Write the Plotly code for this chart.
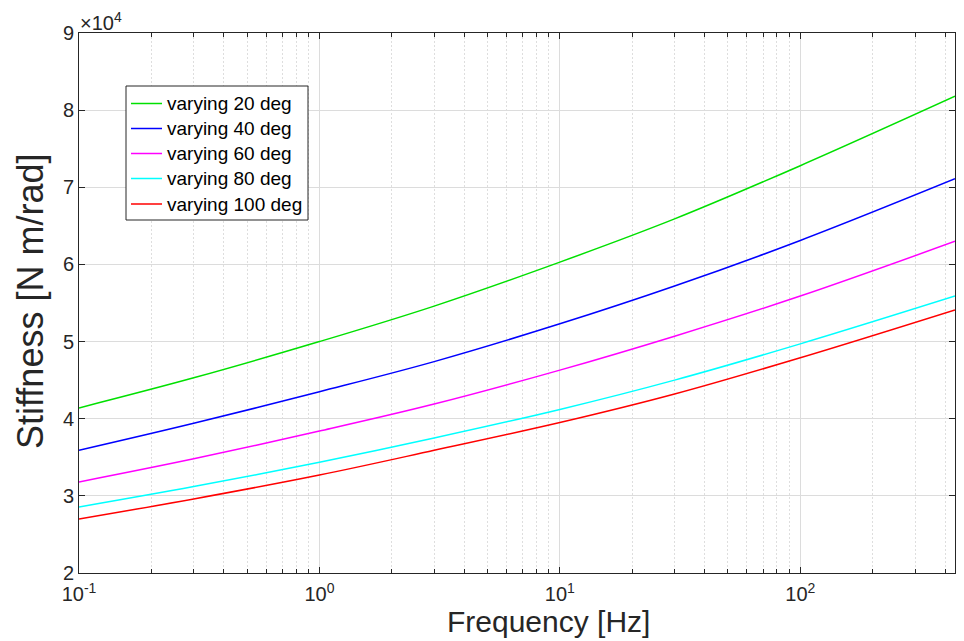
import plotly.graph_objects as go

# Data
freq_hz = [0.1, 0.3, 1, 3, 10, 30, 100, 440]
stiff_20 = [41400, 45300, 50000, 54600, 60300, 65900, 72800, 81800]
stiff_40 = [35900, 39400, 43500, 47400, 52300, 57200, 63100, 71100]
stiff_60 = [31800, 34800, 38400, 41900, 46300, 50700, 55900, 63000]
stiff_80 = [28550, 31200, 34350, 37500, 41200, 45000, 49700, 55900]
stiff_100 = [27000, 29600, 32700, 35900, 39500, 43200, 47900, 54100]

series_names = ["varying 20 deg", "varying 40 deg", "varying 60 deg",
                "varying 80 deg", "varying 100 deg"]
series_values = [stiff_20, stiff_40, stiff_60, stiff_80, stiff_100]
series_colors = ["#00e000", "#0000ff", "#ff00ff", "#00ffff", "#ff0000"]

x_major = [0.1, 1, 10, 100]
x_major_text = ["10<sup>-1</sup>", "10<sup>0</sup>", "10<sup>1</sup>", "10<sup>2</sup>"]
x_minor = [m * d for d in [0.1, 1, 10, 100] for m in range(2, 10) if m * d <= 440]
y_ticks = [20000, 30000, 40000, 50000, 60000, 70000, 80000, 90000]
y_ticktext = ["2", "3", "4", "5", "6", "7", "8", "9"]

FONT = "Liberation Sans, Arial, sans-serif"
AX = "#262626"
OFF = 8  # page body margin of the browser
W, H = 964 - OFF, 641 - OFF
# target plot box in screen pixels: left 79, right 955, top 33, bottom 573
ML, MR, MT, MB = 79 - OFF, 964 - 955, 33 - OFF, 641 - 573
PW, PH = W - ML - MR, H - MT - MB


def px_x(p):  # screen pixel -> paper x
    return (p - OFF - ML) / PW


def px_y(p):  # screen pixel -> paper y
    return 1 - (p - OFF - MT) / PH


fig = go.Figure()
for name, vals, col in zip(series_names, series_values, series_colors):
    fig.add_trace(go.Scatter(x=freq_hz, y=vals, name=name, mode="lines", showlegend=False,
                             line=dict(color=col, width=1.5, shape="spline", smoothing=1.0)))

fig.update_layout(
    width=W, height=H,
    margin=dict(l=ML, r=MR, t=MT, b=MB, autoexpand=False),
    paper_bgcolor="white", plot_bgcolor="white",
    font=dict(family=FONT, color=AX, size=20),
    showlegend=False,
    xaxis=dict(type="log", range=[-1, 2.6435], automargin=False,
               tickmode="array", tickvals=x_major, ticktext=x_major_text,
               ticks="inside", ticklen=6, tickcolor=AX, tickwidth=1,
               ticklabelstandoff=3,
               showline=True, linecolor=AX, linewidth=1, mirror="ticks",
               showgrid=True, gridcolor="#dcdcdc", gridwidth=1,
               zeroline=False, tickfont=dict(size=20, color=AX),
               minor=dict(tickmode="array", tickvals=x_minor, ticks="inside",
                          ticklen=4, tickcolor=AX, showgrid=True,
                          gridcolor="#dedede", griddash="2px,2px", gridwidth=1)),
    yaxis=dict(range=[20000, 90000], automargin=False,
               tickmode="array", tickvals=y_ticks, ticktext=y_ticktext,
               ticks="inside", ticklen=6, tickcolor=AX, tickwidth=1,
               showline=True, linecolor=AX, linewidth=1, mirror="ticks",
               showgrid=True, gridcolor="#dcdcdc", gridwidth=1,
               zeroline=False, tickfont=dict(size=20, color=AX)),
)

# exponent marker
fig.add_annotation(xref="paper", yref="paper", x=0.0, y=1.0, xanchor="left", yanchor="bottom",
                   text="×10<sup>4</sup>", showarrow=False, font=dict(size=20, color=AX),
                   xshift=-1, yshift=-3)
# axis titles
fig.add_annotation(xref="paper", yref="paper", x=px_x(548), y=px_y(621), xanchor="center",
                   yanchor="middle", text="Frequency [Hz]", showarrow=False,
                   font=dict(size=30, color=AX))
fig.add_annotation(xref="paper", yref="paper", x=px_x(30), y=px_y(302), xanchor="center",
                   yanchor="middle", text="Stiffness [N m/rad]", showarrow=False, textangle=-90,
                   font=dict(size=36, color=AX))

# legend box (drawn in paper space)
LB_L, LB_R, LB_T, LB_B = 126, 308, 86, 220
fig.add_shape(type="rect", xref="paper", yref="paper",
              x0=px_x(LB_L), x1=px_x(LB_R), y0=px_y(LB_B), y1=px_y(LB_T),
              line=dict(color=AX, width=1), fillcolor="white", layer="above")
row_y = [103.5, 128.5, 153.5, 178.5, 204]
for name, col, ry in zip(series_names, series_colors, row_y):
    fig.add_shape(type="line", xref="paper", yref="paper",
                  x0=px_x(131), x1=px_x(162), y0=px_y(ry), y1=px_y(ry),
                  line=dict(color=col, width=1.5), layer="above")
    fig.add_annotation(xref="paper", yref="paper", x=px_x(165), y=px_y(ry), xanchor="left",
                       yanchor="middle", text=name, showarrow=False,
                       font=dict(size=19, color="black"))

fig.write_html("out.html")
